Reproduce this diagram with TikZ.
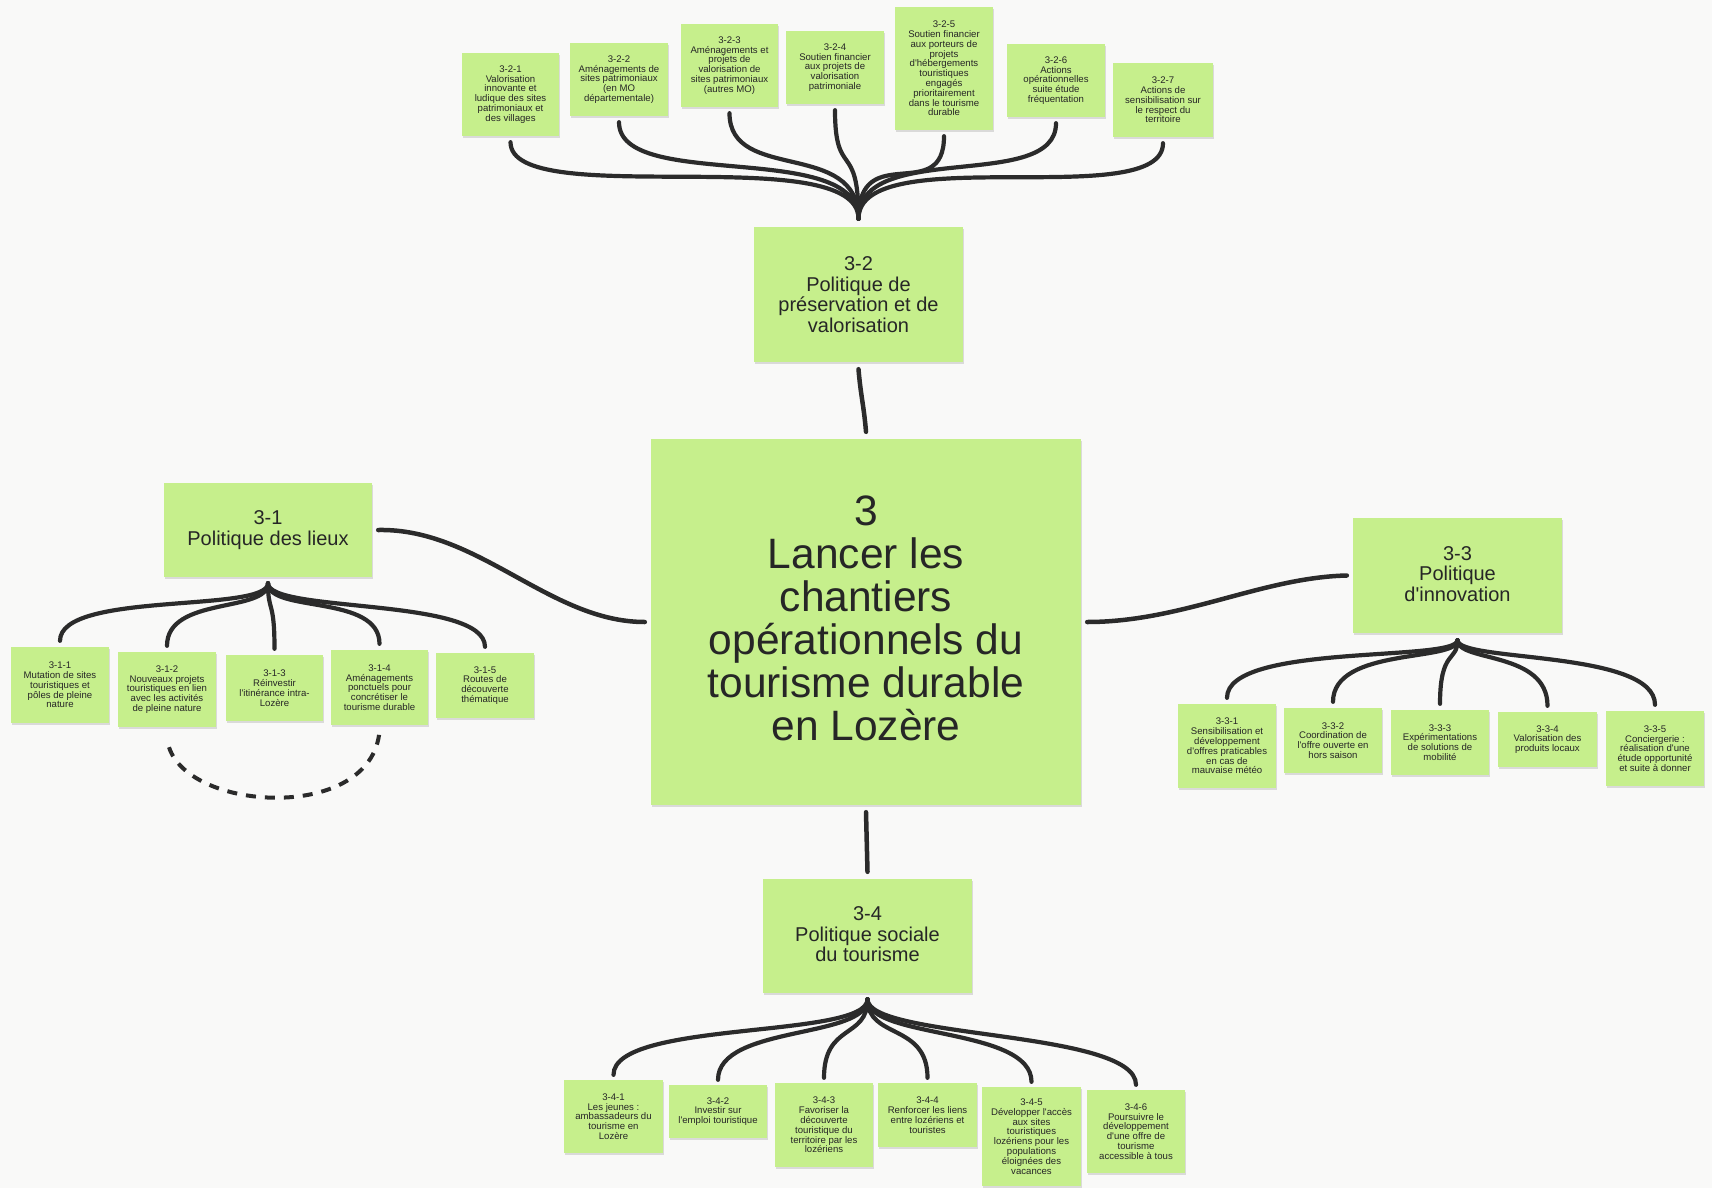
\documentclass[tikz,border=0pt]{standalone}
\usepackage{fontspec}
\setmainfont{Liberation Sans}[Ligatures=TeXOff]
\usetikzlibrary{calc,shadows}
\definecolor{paper}{RGB}{249,249,248}
\definecolor{notegreen}{RGB}{198,239,140}
\definecolor{ink}{RGB}{43,43,43}
\definecolor{txt}{RGB}{38,38,38}

\begin{document}
\begin{tikzpicture}[x=1pt,y=-1pt,
  note/.style={fill=notegreen, inner sep=0pt, align=center, text=txt,
    drop shadow={shadow xshift=0.6pt, shadow yshift=-1.6pt, opacity=0.12, fill=black}},
  small/.style={note, font=\fontsize{9.6}{9.8}\selectfont},
  mid/.style={note, font=\fontsize{20}{20.5}\selectfont},
  big/.style={note, font=\fontsize{42.5}{43}\selectfont},
  link/.style={draw=ink, line width=4.5pt, line cap=round},
  twig/.style={draw=ink, line width=4.2pt, line cap=round},
  dashlink/.style={draw=ink, line width=4pt, dash pattern=on 10pt off 9pt}
]
% page
\fill[paper] (0,0) rectangle (1712,1188);
\useasboundingbox (0,0) rectangle (1712,1188);

% central note and the four policies
\node[big, minimum width=430pt, minimum height=366pt, text depth=8pt] (n3) at (866,622)
  {3\\Lancer les\\chantiers\\opérationnels du\\tourisme durable\\en Lozère};
\node[mid, minimum width=209pt, minimum height=135pt] (n32) at (858.5,294.5)
  {3-2\\Politique de\\préservation et de\\valorisation};
\node[mid, minimum width=208pt, minimum height=94pt] (n31) at (268,530)
  {3-1\\Politique des lieux};
\node[mid, minimum width=209pt, minimum height=115pt, text depth=3pt] (n33) at (1457.5,575.5)
  {3-3\\Politique\\d'innovation};
\node[mid, minimum width=209pt, minimum height=114pt, text depth=3pt] (n34) at (867.5,936)
  {3-4\\Politique sociale\\du tourisme};

% 3-2 actions
\node[small, minimum width=97pt, minimum height=83pt] (n321) at (510.5,94.5)
  {3-2-1\\Valorisation\\innovante et\\ludique des sites\\patrimoniaux et\\des villages};
\node[small, minimum width=98pt, minimum height=73pt] (n322) at (619,79.5)
  {3-2-2\\Aménagements de\\sites patrimoniaux\\(en MO\\départementale)};
\node[small, minimum width=97pt, minimum height=83pt] (n323) at (729.5,65.5)
  {3-2-3\\Aménagements et\\projets de\\valorisation de\\sites patrimoniaux\\(autres MO)};
\node[small, minimum width=98pt, minimum height=73pt] (n324) at (835,67.5)
  {3-2-4\\Soutien financier\\aux projets de\\valorisation\\patrimoniale};
\node[small, minimum width=98pt, minimum height=123pt] (n325) at (944,68.5)
  {3-2-5\\Soutien financier\\aux porteurs de\\projets\\d'hébergements\\touristiques\\engagés\\prioritairement\\dans le tourisme\\durable};
\node[small, minimum width=98pt, minimum height=73pt] (n326) at (1056,80.5)
  {3-2-6\\Actions\\opérationnelles\\suite étude\\fréquentation};
\node[small, minimum width=100pt, minimum height=74pt] (n327) at (1163,100)
  {3-2-7\\Actions de\\sensibilisation sur\\le respect du\\territoire};

% 3-1 actions
\node[small, minimum width=98pt, minimum height=76pt] (n311) at (60,685)
  {3-1-1\\Mutation de sites\\touristiques et\\pôles de pleine\\nature};
\node[small, minimum width=98pt, minimum height=75pt] (n312) at (167,689.5)
  {3-1-2\\Nouveaux projets\\touristiques en lien\\avec les activités\\de pleine nature};
\node[small, minimum width=97pt, minimum height=66pt] (n313) at (274.5,688)
  {3-1-3\\Réinvestir\\l'itinérance intra-\\Lozère};
\node[small, minimum width=97pt, minimum height=75pt] (n314) at (379.5,687.5)
  {3-1-4\\Aménagements\\ponctuels pour\\concrétiser le\\tourisme durable};
\node[small, minimum width=98pt, minimum height=65pt] (n315) at (485,685.5)
  {3-1-5\\Routes de\\découverte\\thématique};

% 3-3 actions
\node[small, minimum width=98pt, minimum height=84pt] (n331) at (1227,746)
  {3-3-1\\Sensibilisation et\\développement\\d'offres praticables\\en cas de\\mauvaise météo};
\node[small, minimum width=98pt, minimum height=65pt] (n332) at (1333,740.5)
  {3-3-2\\Coordination de\\l'offre ouverte en\\hors saison};
\node[small, minimum width=98pt, minimum height=65pt] (n333) at (1440,742.5)
  {3-3-3\\Expérimentations\\de solutions de\\mobilité};
\node[small, minimum width=99pt, minimum height=55pt] (n334) at (1547.5,739.5)
  {3-3-4\\Valorisation des\\produits locaux};
\node[small, minimum width=98pt, minimum height=75pt] (n335) at (1655,748.5)
  {3-3-5\\Conciergerie :\\réalisation d'une\\étude opportunité\\et suite à donner};

% 3-4 actions
\node[small, minimum width=99pt, minimum height=73pt] (n341) at (613.5,1116.5)
  {3-4-1\\Les jeunes :\\ambassadeurs du\\tourisme en\\Lozère};
\node[small, minimum width=98pt, minimum height=53pt] (n342) at (718,1111.5)
  {3-4-2\\Investir sur\\l'emploi touristique};
\node[small, minimum width=98pt, minimum height=84pt] (n343) at (824,1125)
  {3-4-3\\Favoriser la\\découverte\\touristique du\\territoire par les\\lozériens};
\node[small, minimum width=99pt, minimum height=64pt] (n344) at (927.5,1115)
  {3-4-4\\Renforcer les liens\\entre lozériens et\\touristes};
\node[small, minimum width=99pt, minimum height=99pt] (n345) at (1031.5,1136.5)
  {3-4-5\\Développer l'accès\\aux sites\\touristiques\\lozériens pour les\\populations\\éloignées des\\vacances};
\node[small, minimum width=98pt, minimum height=83pt] (n346) at (1136,1131.5)
  {3-4-6\\Poursuivre le\\développement\\d'une offre de\\tourisme\\accessible à tous};

% links from the central note to the policies
\draw[link] ($(n32.south)+(0,7)$) .. controls +(2,25) and +(-2,-25) .. ($(n3.north)+(0,-7)$);
\draw[link] ($(n31.east)+(6,0)$) .. controls +(100,-2) and +(-95,0) .. ($(n3.west)+(-6,0)$);
\draw[link] ($(n3.east)+(6,0)$) .. controls +(95,0) and +(-85,2) .. ($(n33.west)+(-6,0)$);
\draw[link] ($(n3.south)+(0,7)$) -- ($(n34.north)+(0,-7)$);

% branching roots
\coordinate (r32) at ($(n32.north)+(0,-8)$);
\coordinate (r31) at ($(n31.south)+(0,6)$);
\coordinate (r33) at ($(n33.south)+(0,7)$);
\coordinate (r34) at ($(n34.south)+(0,6)$);

% branches to the actions
\foreach \c in {n321,n322,n323,n324,n325,n326,n327}
  \draw[twig] (r32) .. controls +(0,-80) and +(0,70) .. ($(\c.south)+(0,6)$);
\foreach \c in {n311,n312,n313,n314,n315}
  \draw[twig] (r31) .. controls +(0,30) and +(0,-50) .. ($(\c.north)+(0,-6)$);
\foreach \c in {n331,n332,n333,n334,n335}
  \draw[twig] (r33) .. controls +(0,22) and +(0,-55) .. ($(\c.north)+(0,-6)$);
\foreach \c in {n341,n342,n343,n344,n345,n346}
  \draw[twig] (r34) .. controls +(0,40) and +(0,-55) .. ($(\c.north)+(0,-5)$);

% dashed link between 3-1-2 and 3-1-4
\draw[dashlink] ($(n312.south)+(2,20)$) .. controls +(21,65) and +(-8,91) .. ($(n314.south)+(0,6)$);
\end{tikzpicture}
\end{document}
